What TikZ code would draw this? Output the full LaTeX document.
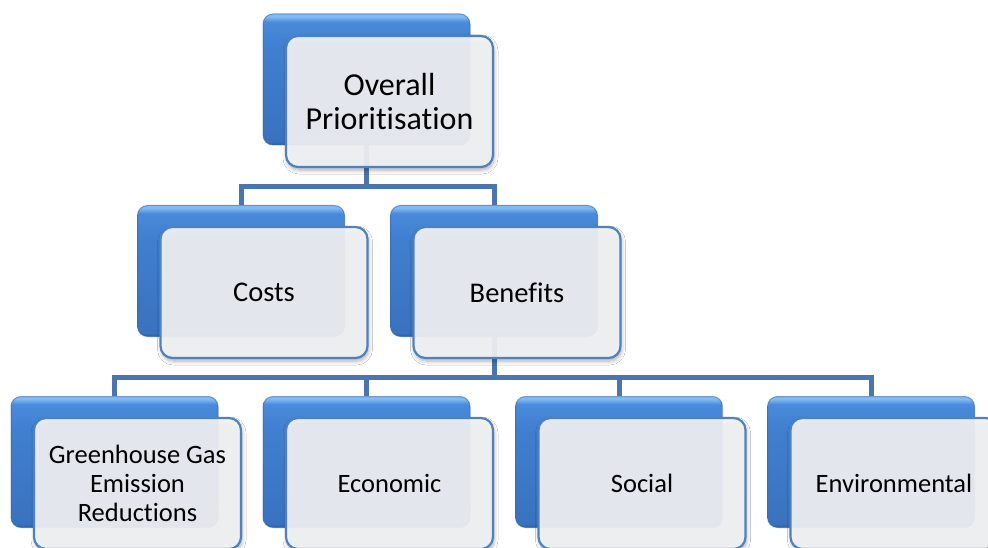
\documentclass[tikz,border=0pt]{standalone}
\usepackage{fontspec}
\setmainfont[Ligatures=NoCommon]{Carlito}
\usetikzlibrary{shadows.blur}
\definecolor{connC}{HTML}{4A75AE}
\definecolor{wBorder}{HTML}{4F81BD}
\definecolor{wFill}{HTML}{F3F4F6}
\definecolor{bTop}{HTML}{80BAF3}
\definecolor{bHi}{HTML}{4A8ADA}
\definecolor{bMid}{HTML}{407FCF}
\definecolor{bLow}{HTML}{3A72BE}
\definecolor{bBot}{HTML}{3060A4}
\definecolor{bEdge}{HTML}{3468B0}
\pgfdeclareverticalshading{bluegrad}{100bp}{color(0bp)=(bBot); color(25bp)=(bBot); color(26.5bp)=(bLow); color(62bp)=(bMid); color(72bp)=(bHi); color(74bp)=(bTop); color(75bp)=(bTop); color(100bp)=(bTop)}
\tikzset{
  blueshape/.style={rectangle, rounded corners=10pt, shade, shading=bluegrad,
    minimum width=207pt, minimum height=131pt, inner sep=0pt,
    draw=bEdge, draw opacity=0.6, line width=1pt},
  whiteshape/.style={rectangle, rounded corners=12pt, draw=wBorder, line width=2.2pt,
    fill=wFill, fill opacity=0.92, text opacity=1, text=black,
    minimum width=207pt, minimum height=131pt, inner sep=0pt, align=center,
    blur shadow={shadow xshift=1pt, shadow yshift=-3pt, shadow opacity=35,
      shadow blur steps=6, shadow blur radius=4pt}},
  conn/.style={draw=connC, line width=5pt},
  fontA/.style={font=\fontsize{32pt}{34pt}\selectfont},
  fontB/.style={font=\fontsize{28.5pt}{32pt}\selectfont},
  fontC/.style={font=\fontsize{26.5pt}{29pt}\selectfont},
}
\begin{document}
\begin{tikzpicture}[x=1pt,y=-1pt]
\clip (0,0) rectangle (988,548);
\fill[white] (0,0) rectangle (988,548);
% back (blue) boxes
\node[blueshape] (rb) at (366.5,79.5) {};
\node[blueshape] (cb) at (241,271) {};
\node[blueshape] (bb) at (494,271) {};
\node[blueshape] (g1b) at (114.5,462) {};
\node[blueshape] (g2b) at (366.5,462) {};
\node[blueshape] (g3b) at (619,462) {};
\node[blueshape] (g4b) at (871,462) {};
% connectors
\coordinate (busA) at (366.5,186.5);
\coordinate (busB) at (494,377.5);
\draw[conn] (rb.south) -- (busA);
\draw[conn] (cb.north) |- (busA) -| (bb.north);
\draw[conn] (bb.south) -- (busB);
\draw[conn] (g1b.north) |- (busB) -| (g4b.north);
\draw[conn] (g2b.north) -- (g2b.north |- busB);
\draw[conn] (g3b.north) -- (g3b.north |- busB);
% front (text) boxes
\node[whiteshape, fontA] (rw) at (389.5,101.5) {Overall\\Prioritisation};
\node[whiteshape, fontB] (cw) at (264,292.5) {Costs};
\node[whiteshape, fontB] (bw) at (517,292.5) {Benefits};
\node[whiteshape, fontC] (g1w) at (137.5,483.5) {Greenhouse Gas\\Emission\\Reductions};
\node[whiteshape, fontC] (g2w) at (389.5,483.5) {Economic};
\node[whiteshape, fontC] (g3w) at (642,483.5) {Social};
\node[whiteshape, fontC] (g4w) at (894,483.5) {Environmental};
\end{tikzpicture}
\end{document}
